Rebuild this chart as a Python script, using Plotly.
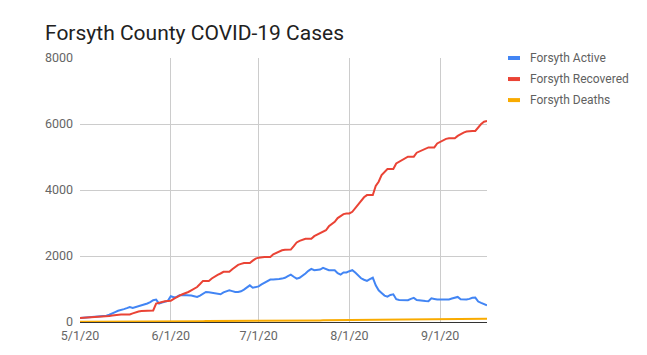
import plotly.graph_objects as go
import pandas as pd

dates = pd.date_range("2020-05-01", "2020-09-17", freq="D")

active = [121,128,135,145,155,165,172,178,185,190,
          220,250,300,340,375,390,420,455,425,450,
          470,495,530,560,600,660,680,560,590,610,
          640,780,750,760,810,820,820,810,800,780,
          760,800,860,910,900,885,870,855,840,900,
          930,960,935,910,910,930,980,1060,1110,1040,
          1060,1080,1140,1190,1250,1285,1285,1285,1300,1315,
          1340,1390,1435,1370,1315,1340,1400,1470,1550,1610,
          1570,1580,1590,1640,1600,1570,1570,1570,1480,1435,
          1500,1500,1540,1570,1500,1420,1325,1280,1245,1300,
          1345,1110,960,880,800,770,820,840,690,670,
          660,660,660,700,730,665,650,640,635,630,
          720,700,680,685,690,685,680,710,740,760,
          690,680,680,700,735,740,620,580,535,505]

recovered = [121,125,130,135,140,145,148,150,160,175,
             180,195,210,220,225,228,230,230,260,300,
             320,330,335,340,345,350,560,590,620,630,
             635,640,700,760,800,840,870,910,960,1010,
             1060,1150,1245,1245,1245,1320,1380,1430,1470,1520,
             1520,1520,1600,1670,1730,1760,1790,1790,1790,1860,
             1920,1950,1970,1970,1970,1970,2050,2100,2140,2175,
             2190,2195,2195,2300,2410,2460,2500,2520,2520,2520,
             2600,2650,2700,2750,2780,2900,2960,3036,3150,3220,
             3270,3290,3290,3340,3450,3560,3680,3780,3845,3845,
             3845,4120,4250,4450,4560,4635,4635,4635,4805,4850,
             4900,4960,5010,5010,5010,5130,5170,5210,5260,5290,
             5290,5290,5410,5460,5510,5550,5565,5565,5565,5640,
             5700,5740,5770,5785,5790,5790,5900,6000,6070,6090]

deaths = [4,4,5,5,5,6,6,7,7,8,
          8,9,9,10,10,11,11,12,12,13,
          14,14,15,15,16,16,17,18,18,19,
          20,20,21,21,22,22,23,24,24,25,
          25,26,26,27,27,28,28,29,29,30,
          30,31,31,32,32,33,33,34,34,35,
          35,36,36,37,37,38,38,39,39,40,
          41,41,42,43,43,44,45,45,46,47,
          48,48,49,50,51,51,52,53,54,55,
          56,57,58,59,60,61,62,62,63,64,
          65,66,67,68,69,70,70,71,72,73,
          74,75,76,77,77,78,79,80,81,82,
          83,84,85,86,87,87,88,89,90,91,
          92,93,94,95,96,97,98,99,100,101]

series_names = ["Forsyth Active", "Forsyth Recovered", "Forsyth Deaths"]
colors = ["#4285F4", "#EA4335", "#F9AB00"]
tick_vals = ["2020-05-01", "2020-06-01", "2020-07-01", "2020-08-01", "2020-09-01"]
tick_text = ["5/1/20", "6/1/20", "7/1/20", "8/1/20", "9/1/20"]

fig = go.Figure()
for name, vals, col in zip(series_names, [active, recovered, deaths], colors):
    fig.add_trace(go.Scatter(x=dates, y=vals, mode="lines", name=name,
                             line=dict(color=col, width=2), showlegend=False))

# custom legend
for i, (name, col) in enumerate(zip(series_names, colors)):
    yp = 58.3 + 21 * i
    yf = 1 - (yp - 58.3) / (321.7 - 58.3)
    fig.add_shape(type="rect", xref="paper", yref="paper",
                  x0=(508 - 80) / 407, x1=(520 - 80) / 407,
                  y0=yf - 2 / 263.4, y1=yf + 2 / 263.4,
                  fillcolor=col, line=dict(width=0))
    fig.add_annotation(xref="paper", yref="paper", x=(528 - 80) / 407, y=yf,
                       text=name, showarrow=False, xanchor="left", yanchor="middle",
                       font=dict(family="Roboto", size=12, color="#616161"))

fig.update_layout(
    width=647, height=355,
    margin=dict(l=80, r=160, t=58, b=33),
    paper_bgcolor="white", plot_bgcolor="white",
    title=dict(text="Forsyth County COVID-19 Cases", x=45 / 647, xanchor="left",
               y=1 - 33 / 355, yanchor="middle", pad=dict(l=0, r=0, t=0, b=0),
               font=dict(family="Roboto", size=21, color="#212121")),
    font=dict(family="Roboto", color="#666666", size=12.5),
)
fig.update_xaxes(range=["2020-05-01", "2020-09-17"], tickvals=tick_vals, ticktext=tick_text,
                 showgrid=True, gridcolor="#CCCCCC", gridwidth=1,
                 showline=True, linecolor="#333333", linewidth=1, zeroline=False,
                 ticks="", tickfont=dict(size=12.5, color="#666666"), ticklabelstandoff=2)
fig.update_yaxes(range=[0, 8000], dtick=2000, showgrid=True, gridcolor="#CCCCCC",
                 zeroline=False, showline=False, ticks="",
                 tickfont=dict(size=12.5, color="#666666"), ticklabelstandoff=6)

fig.write_html("out.html", post_script="document.body.style.margin='0';",
               config={"displayModeBar": False})
